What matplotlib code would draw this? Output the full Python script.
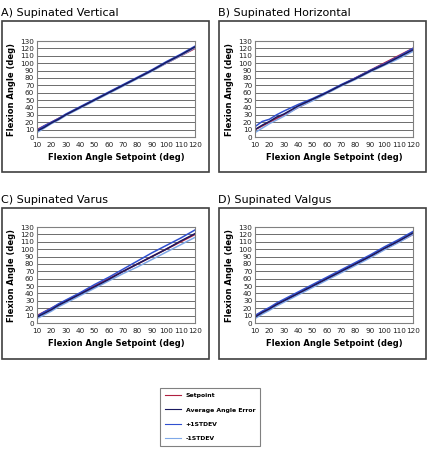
import matplotlib
matplotlib.use("Agg")
import matplotlib.pyplot as plt
from matplotlib.patches import Rectangle
from matplotlib.lines import Line2D

W, H = 430, 454

# setpoint angles (deg)
setpoint = [10, 15, 20, 25, 30, 40, 50, 60, 70, 80, 90, 100, 110, 120]

titles = ["A) Supinated Vertical", "B) Supinated Horizontal",
          "C) Supinated Varus", "D) Supinated Valgus"]

avg_a = [8, 13, 19, 24, 30, 40, 50, 60, 70, 80, 90, 101, 111, 122]
plus_a = [9, 15, 20, 25, 31, 41, 51, 61, 71, 81, 91, 102, 112, 123]
minus_a = [6, 12, 18, 23, 29, 39, 49, 59, 69, 79, 89, 100, 110, 121]

avg_b = [10, 16, 21, 27, 31, 42, 51, 60, 70, 79, 89, 98, 108, 118]
plus_b = [14, 21, 24, 30, 35, 44, 52, 61, 71, 80, 90, 99, 109, 120]
minus_b = [6, 12, 18, 23, 28, 40, 49, 59, 69, 78, 88, 97, 106, 116]

avg_c = [8, 13, 18, 24, 29, 39, 49, 59, 70, 80, 90, 100, 111, 121]
plus_c = [9, 15, 20, 26, 31, 41, 52, 62, 73, 84, 95, 105, 115, 126]
minus_c = [6, 11, 16, 22, 27, 37, 47, 57, 67, 76, 86, 96, 106, 116]

avg_d = [8, 14, 19, 25, 30, 40, 50, 60, 70, 80, 90, 101, 111, 122]
plus_d = [10, 16, 21, 27, 32, 42, 52, 62, 72, 82, 92, 103, 113, 124]
minus_d = [6, 12, 17, 23, 28, 38, 48, 58, 68, 78, 88, 99, 109, 120]

avgs = [avg_a, avg_b, avg_c, avg_d]
pluses = [plus_a, plus_b, plus_c, plus_d]
minuses = [minus_a, minus_b, minus_c, minus_d]

labels = ["Setpoint", "Average Angle Error", "+1STDEV", "-1STDEV"]
colors = ["#b02040", "#1a1a60", "#3050d0", "#7fa8e8"]

# panel positions in pixels: (box left, box top, axes left, axes top)
panels = [(2, 21, 37, 41), (219, 21, 255, 41),
          (2, 208, 37, 227), (219, 208, 255, 227)]
box_w, box_h = 207, 151
ax_w, ax_h = 158, 96

fig = plt.figure(figsize=(W / 100, H / 100), dpi=100)

for i, (bx, by, axx, axy) in enumerate(panels):
    fig.add_artist(Rectangle((bx / W, 1 - (by + box_h) / H), box_w / W, box_h / H,
                             transform=fig.transFigure, fill=False,
                             edgecolor="#404040", lw=1.2))
    fig.text(bx / W - 1 / W, 1 - (by - 3) / H, titles[i], fontsize=8,
             ha="left", va="bottom")
    ax = fig.add_axes([axx / W, 1 - (axy + ax_h) / H, ax_w / W, ax_h / H])
    ax.plot(setpoint, setpoint, color=colors[0], lw=1.2)
    ax.plot(setpoint, pluses[i], color=colors[2], lw=1.1)
    ax.plot(setpoint, minuses[i], color=colors[3], lw=1.1)
    ax.plot(setpoint, avgs[i], color=colors[1], lw=1.1)
    ax.set_xlim(10, 120)
    ax.set_ylim(0, 130)
    ax.set_xticks(range(10, 121, 10))
    ax.set_yticks(range(0, 131, 10))
    ax.yaxis.grid(True, color="#555555", lw=0.6)
    ax.set_axisbelow(True)
    ax.tick_params(labelsize=5.2, length=0, pad=2, colors="#202020")
    ax.tick_params(axis="x", pad=3.5)
    for s in ax.spines.values():
        s.set_color("#808080")
        s.set_linewidth(0.8)
    ax.set_xlabel("Flexion Angle Setpoint (deg)", fontsize=6, fontweight="bold",
                  labelpad=4)
    ax.set_ylabel("Flexion Angle (deg)", fontsize=6, fontweight="bold", labelpad=3)

handles = [Line2D([], [], color=c, lw=0.8) for c in colors]
leg = fig.legend(handles, labels, loc="upper left",
                 bbox_to_anchor=(160 / W, 1 - 388 / H),
                 prop={"size": 4.4, "weight": "bold"}, frameon=True,
                 fancybox=False, handlelength=2.6, borderpad=0.8,
                 labelspacing=1.5, borderaxespad=0)
leg.get_frame().set_edgecolor("#606060")
leg.get_frame().set_linewidth(0.8)

fig.savefig("out.png", dpi=100)
